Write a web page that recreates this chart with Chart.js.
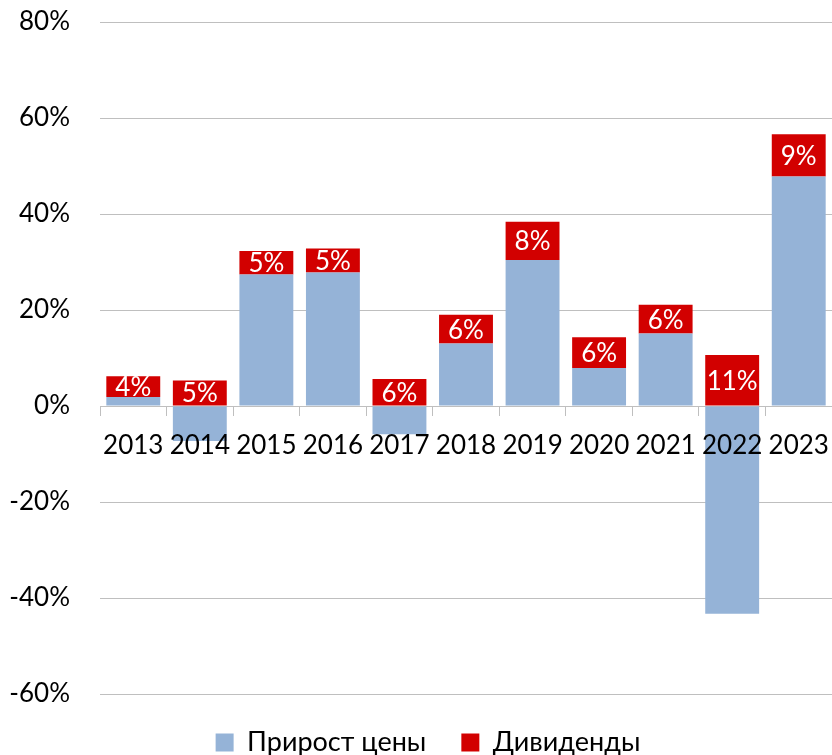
<!DOCTYPE html>
<html>
<head>
<meta charset="utf-8">
<script src="https://cdn.jsdelivr.net/npm/chart.js@4"></script>
<style>
  html, body { margin: 0; padding: 0; background: #fff; }
  #wrap { width: 832px; height: 755px; }
</style>
</head>
<body>
<div id="wrap"><canvas id="c" width="832" height="755"></canvas></div>
<script>
const years     = ['2013','2014','2015','2016','2017','2018','2019','2020','2021','2022','2023'];
const priceGain = [1.9, -7.3, 27.4, 27.8, -5.9, 13.0, 30.4, 7.9, 15.1, -43.3, 47.8];
const dividends = [4.3, 5.3, 4.9, 5.0, 5.6, 6.0, 8.0, 6.4, 6.0, 10.6, 8.8];
const yTicks    = [-60, -40, -20, 0, 20, 40, 60, 80];

const FONT = 'Lato, "Open Sans", sans-serif';
const grid = '#bfbfbf';

// white % labels in the middle of the red segments
const barLabels = {
  id: 'barLabels',
  afterDatasetsDraw(chart) {
    const meta = chart.getDatasetMeta(1);
    const ctx = chart.ctx;
    ctx.save();
    ctx.fillStyle = '#fff';
    ctx.font = '26px ' + FONT;
    ctx.textAlign = 'center';
    ctx.textBaseline = 'middle';
    meta.data.forEach((bar, i) => {
      ctx.fillText(Math.round(dividends[i]) + '%', bar.x, (bar.y + bar.base) / 2 + 1);
    });
    ctx.restore();
  }
};

// keep the legend short so the plot runs down to -60% at the right height,
// while its padding still spreads the two items apart
const legendFix = {
  id: 'legendFix',
  beforeLayout(chart) {
    const lg = chart.legend;
    if (!lg || lg._fixed) return;
    const fit = lg.fit;
    lg.fit = function () { fit.call(this); this.height = 61; };
    lg._fixed = true;
  },
  afterLayout(chart) {
    if (!chart.legend) return;
    chart.legend.left += 12;
    chart.legend.right += 12;
  }
};

new Chart(document.getElementById('c'), {
  type: 'bar',
  data: {
    labels: years,
    datasets: [
      { label: 'Прирост цены', data: priceGain, backgroundColor: '#95b3d7', borderWidth: 0,
        barPercentage: 0.81, categoryPercentage: 1 },
      { label: 'Дивиденды', data: dividends, backgroundColor: '#d20000', borderWidth: 0,
        barPercentage: 0.81, categoryPercentage: 1 }
    ]
  },
  options: {
    responsive: false,
    animation: false,
    layout: { padding: { top: 22, right: 0, left: 0, bottom: 0 } },
    plugins: {
      tooltip: { enabled: false },
      legend: {
        position: 'bottom',
        labels: {
          color: '#000', font: { family: FONT, size: 27 },
          boxWidth: 18, boxHeight: 18, padding: 35
        }
      }
    },
    scales: {
      x: {
        stacked: true,
        position: { y: 0 },
        afterFit: s => { s.height = 0; },
        grid: { drawOnChartArea: false, drawTicks: true, tickLength: 9, color: grid, offset: true },
        border: { display: true, color: grid, width: 1 },
        ticks: { display: false }
      },
      // year labels drawn on top of the bars
      xLabels: {
        type: 'category',
        labels: years,
        offset: true,
        position: { y: 0 },
        afterFit: s => { s.height = 0; },
        grid: { drawOnChartArea: false, drawTicks: true, tickLength: 24, tickColor: 'transparent' },
        border: { display: false },
        ticks: { z: 1, color: '#000', font: { family: FONT, size: 26 }, padding: 0, maxRotation: 0, autoSkip: false }
      },
      y: {
        stacked: true,
        min: -60, max: 80,
        afterFit: s => { s.width = 100; },
        afterBuildTicks: s => { s.ticks = yTicks.map(v => ({ value: v })); },
        grid: { color: grid, drawTicks: true, tickLength: 30, tickColor: 'transparent' },
        border: { display: false },
        ticks: { color: '#000', font: { family: FONT, size: 26 }, padding: 0,
                 callback: v => v + '%' }
      }
    }
  },
  plugins: [barLabels, legendFix]
});
</script>
</body>
</html>
